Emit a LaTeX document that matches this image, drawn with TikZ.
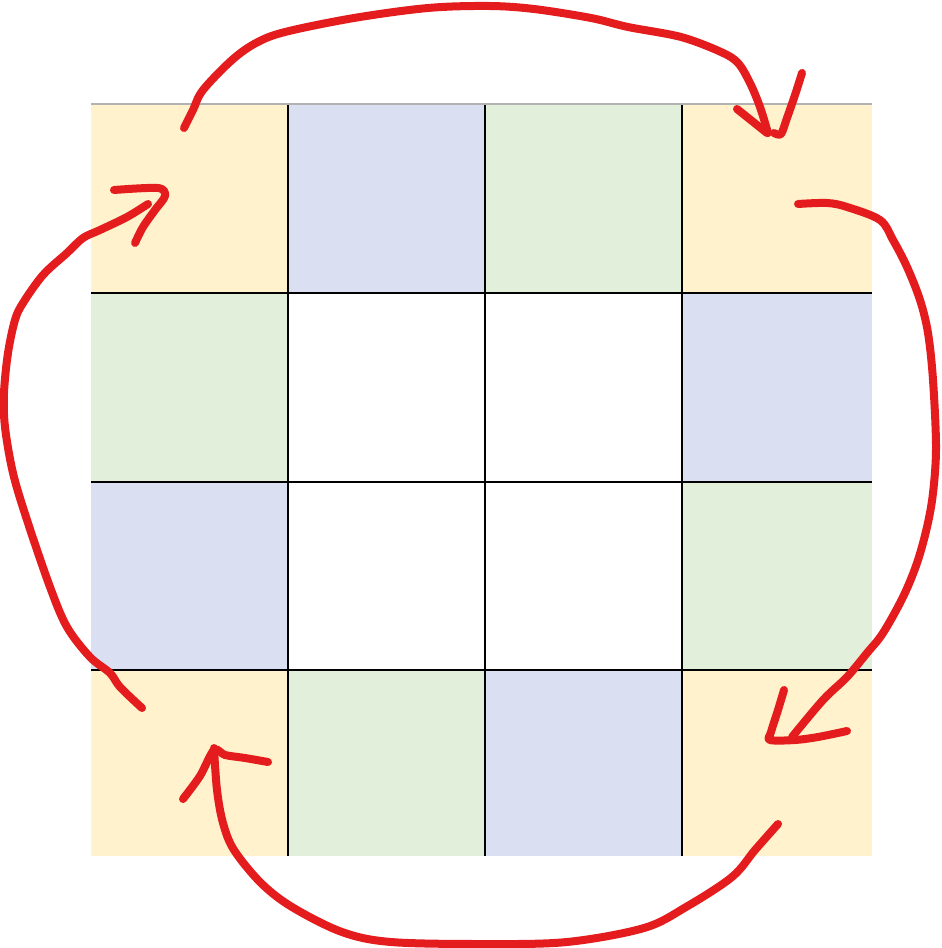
\documentclass[tikz,border=0pt]{standalone}
\definecolor{cellY}{RGB}{255,242,204}
\definecolor{cellB}{RGB}{218,224,242}
\definecolor{cellG}{RGB}{226,239,218}
\definecolor{pen}{RGB}{228,28,30}
\definecolor{topgray}{RGB}{178,178,178}
\tikzset{
  ink/.style={draw=pen,line width=6pt,line cap=round,line join=round},
  gridline/.style={draw=black,line width=0.8pt},
}
\begin{document}
\begin{tikzpicture}[x=0.75pt,y=-0.75pt]
\useasboundingbox (0,0) rectangle (941,948);
% cells
\fill[cellY] (91,104) rectangle (288,293);
\fill[cellB] (288,104) rectangle (485,293);
\fill[cellG] (485,104) rectangle (682,293);
\fill[cellY] (682,104) rectangle (872,293);
\fill[cellG] (91,293) rectangle (288,482);
\fill[cellB] (682,293) rectangle (872,482);
\fill[cellB] (91,482) rectangle (288,670);
\fill[cellG] (682,482) rectangle (872,670);
\fill[cellY] (91,670) rectangle (288,856);
\fill[cellG] (288,670) rectangle (485,856);
\fill[cellB] (485,670) rectangle (682,856);
\fill[cellY] (682,670) rectangle (872,856);
% grid
\draw[gridline] (288,104) -- (288,856);
\draw[gridline] (485,104) -- (485,856);
\draw[gridline] (682,104) -- (682,856);
\draw[gridline] (91,293) -- (872,293);
\draw[gridline] (91,482) -- (872,482);
\draw[gridline] (91,670) -- (872,670);
\draw[draw=topgray,line width=1.2pt] (91,104) -- (872,104);
% top arc
\draw[ink] plot[smooth,tension=0.55] coordinates {(184,128) (193,110) (203,90) (232,60) (256,43) (285,32) (354,18) (428,8) (489,6) (534,9) (591,18) (628,27) (681,37) (721,52) (738,63) (750,83) (760,107) (768,133)};
\draw[ink] (737,109) -- (767,133);
\draw[ink] plot[smooth,tension=0.5] coordinates {(802,73) (795,95) (787,118) (781,134) (774,133)};
% right arc
\draw[ink] plot[smooth,tension=0.55] coordinates {(798,204) (827,203) (847,207) (880,220) (893,240) (907,267) (920,300) (928,333) (933,380) (936,447) (933,493) (927,527) (917,563) (903,597) (883,633) (867,653) (847,677) (823,700) (792,737)};
\draw[ink] plot[smooth,tension=0.5] coordinates {(784,690) (778,710) (771,732) (770,740) (795,740) (818,737) (847,731)};
% bottom arc
\draw[ink] plot[smooth,tension=0.55] coordinates {(778,824) (755,850) (732,877) (686,907) (644,928) (567,942) (483,944) (391,942) (342,932) (292,907) (261,883) (234,850) (223,823) (217,790) (214,748)};
\draw[ink] plot[smooth,tension=0.5] coordinates {(183,799) (200,776) (214,750) (225,755) (245,758) (268,762)};
% left arc
\draw[ink] plot[smooth,tension=0.55] coordinates {(142,708) (120,687) (110,673) (90,657) (67,627) (50,587) (27,520) (13,473) (5,427) (4,393) (8,353) (15,320) (23,303) (43,275) (67,253) (83,238) (100,230) (127,217) (148,204)};
\draw[ink] plot[smooth,tension=0.5] coordinates {(114,190) (158,188) (165,196) (155,210) (143,227) (135,243)};
\end{tikzpicture}
\end{document}
